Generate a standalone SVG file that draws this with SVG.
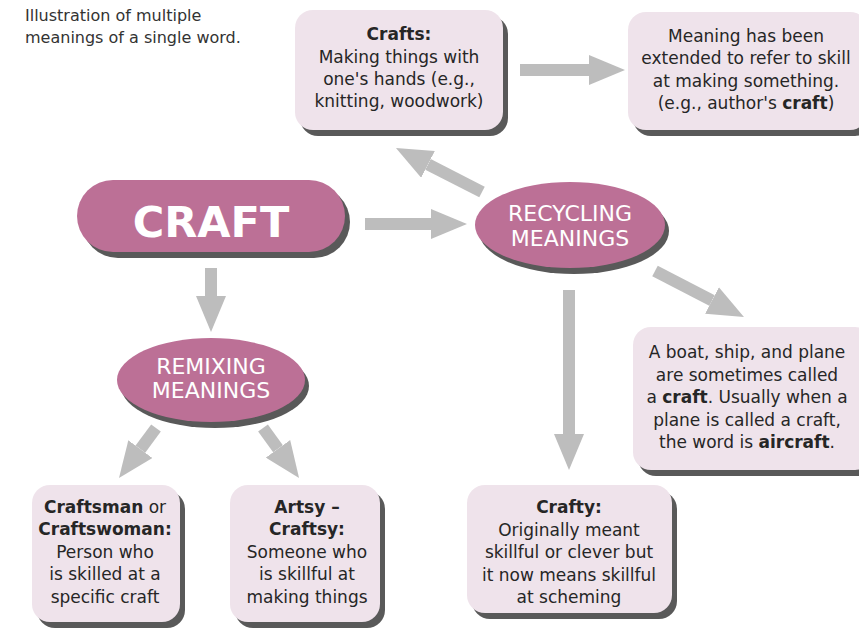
<svg xmlns="http://www.w3.org/2000/svg" width="859" height="630" viewBox="0 0 859 630">
  <defs>
    <style>
      text { font-family: "DejaVu Sans", "Open Sans", "Liberation Sans", sans-serif; fill: #262626; }
      .title { font-size: 16px; fill: #333333; }
      .body { font-size: 17px; text-anchor: middle; }
      .body .b { font-weight: bold; }
      .box { fill: #efe3eb; }
      .shadow { fill: #595959; }
      .pill { fill: #bc7096; }
      .big { font-size: 43px; font-weight: bold; fill: #ffffff; text-anchor: middle; }
      .oval { font-size: 22px; fill: #ffffff; text-anchor: middle; }
      .conn line { stroke: #bdbdbd; stroke-width: 12; marker-end: url(#head); }
    </style>
    <marker id="head" viewBox="0 0 36 30" markerWidth="36" markerHeight="30" refX="0" refY="15" orient="auto" markerUnits="userSpaceOnUse">
      <path d="M0,0 L36,15 L0,30 Z" fill="#bdbdbd"/>
    </marker>
  </defs>

  <rect width="859" height="630" fill="#ffffff"/>

  <!-- caption -->
  <text class="title" x="25" y="21">Illustration of multiple</text>
  <text class="title" x="25" y="43">meanings of a single word.</text>

  <!-- connectors: each line stops at the base of its arrowhead -->
  <g id="connectors" class="conn">
    <line x1="520" y1="70" x2="589" y2="70"/>
    <line x1="365" y1="224" x2="431" y2="224"/>
    <line x1="482" y1="192" x2="428" y2="164.4"/>
    <line x1="655" y1="271" x2="712" y2="300.5"/>
    <line x1="569" y1="290" x2="569" y2="434"/>
    <line x1="211" y1="268" x2="211" y2="296"/>
    <line x1="156" y1="428" x2="140.4" y2="449.1"/>
    <line x1="263" y1="428" x2="278" y2="448.8"/>
  </g>

  <!-- main word -->
  <g id="craft">
    <rect class="shadow" x="82" y="186" width="268" height="72" rx="36"/>
    <rect class="pill" x="77" y="180" width="268" height="72" rx="36"/>
    <text class="big" x="211" y="237">CRAFT</text>
  </g>

  <g id="recycling">
    <ellipse class="shadow" cx="574" cy="231" rx="95" ry="43"/>
    <ellipse class="pill" cx="570" cy="225" rx="95" ry="43"/>
    <text class="oval" x="570" y="221">RECYCLING</text>
    <text class="oval" x="570" y="246">MEANINGS</text>
  </g>

  <g id="remixing">
    <ellipse class="shadow" cx="215" cy="386" rx="94" ry="42"/>
    <ellipse class="pill" cx="211" cy="380" rx="94" ry="42"/>
    <text class="oval" x="211" y="374">REMIXING</text>
    <text class="oval" x="211" y="398">MEANINGS</text>
  </g>

  <g id="crafts">
    <rect class="shadow" x="300" y="16" width="208" height="120" rx="18"/>
    <rect class="box" x="295" y="10" width="208" height="120" rx="18"/>
    <text class="body" x="399" y="40"><tspan class="b">Crafts:</tspan></text>
    <text class="body" x="399" y="63">Making things with</text>
    <text class="body" x="399" y="85">one's hands (e.g.,</text>
    <text class="body" x="399" y="107">knitting, woodwork)</text>
  </g>

  <g id="skill">
    <rect class="shadow" x="633" y="18" width="240" height="118" rx="18"/>
    <rect class="box" x="628" y="12" width="240" height="118" rx="18"/>
    <text class="body" x="746" y="42">Meaning has been</text>
    <text class="body" x="746" y="64">extended to refer to skill</text>
    <text class="body" x="746" y="87">at making something.</text>
    <text class="body" x="746" y="109">(e.g., author's <tspan class="b">craft</tspan>)</text>
  </g>

  <g id="vessel">
    <rect class="shadow" x="638" y="333" width="240" height="143" rx="18"/>
    <rect class="box" x="633" y="327" width="240" height="143" rx="18"/>
    <text class="body" x="747" y="358">A boat, ship, and plane</text>
    <text class="body" x="747" y="381">are sometimes called</text>
    <text class="body" x="747" y="403">a <tspan class="b">craft</tspan>. Usually when a</text>
    <text class="body" x="747" y="426">plane is called a craft,</text>
    <text class="body" x="747" y="448">the word is <tspan class="b">aircraft</tspan>.</text>
  </g>

  <g id="crafty">
    <rect class="shadow" x="472" y="491" width="205" height="128" rx="18"/>
    <rect class="box" x="467" y="485" width="205" height="128" rx="18"/>
    <text class="body" x="569" y="513"><tspan class="b">Crafty:</tspan></text>
    <text class="body" x="569" y="536">Originally meant</text>
    <text class="body" x="569" y="558">skillful or clever but</text>
    <text class="body" x="569" y="581">it now means skillful</text>
    <text class="body" x="569" y="603">at scheming</text>
  </g>

  <g id="craftsman">
    <rect class="shadow" x="37" y="491" width="148" height="137" rx="18"/>
    <rect class="box" x="32" y="485" width="148" height="137" rx="18"/>
    <text class="body" x="105" y="513"><tspan class="b">Craftsman</tspan> or</text>
    <text class="body" x="105" y="535"><tspan class="b">Craftswoman:</tspan></text>
    <text class="body" x="105" y="558">Person who</text>
    <text class="body" x="105" y="580">is skilled at a</text>
    <text class="body" x="105" y="603">specific craft</text>
  </g>

  <g id="artsy">
    <rect class="shadow" x="235" y="491" width="150" height="137" rx="18"/>
    <rect class="box" x="230" y="485" width="150" height="137" rx="18"/>
    <text class="body" x="307" y="513"><tspan class="b">Artsy –</tspan></text>
    <text class="body" x="307" y="535"><tspan class="b">Craftsy:</tspan></text>
    <text class="body" x="307" y="558">Someone who</text>
    <text class="body" x="307" y="580">is skillful at</text>
    <text class="body" x="307" y="603">making things</text>
  </g>
</svg>
